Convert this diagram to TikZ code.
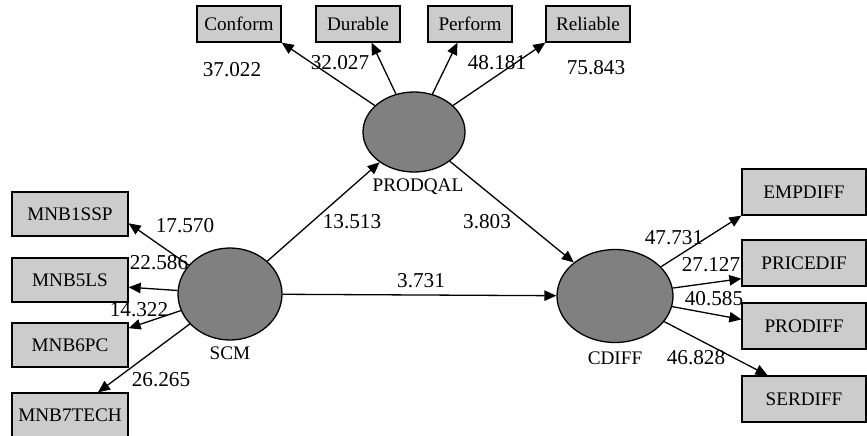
\documentclass[tikz,border=0pt]{standalone}
\usepackage{fontspec}
\setmainfont{Liberation Serif}
\usetikzlibrary{calc,shapes.geometric,shadows,arrows.meta}

\begin{document}
\begin{tikzpicture}[x=0.5pt,y=-0.5pt,line width=0.65pt,
	indicator/.style={draw,fill=gray!40,inner sep=0pt,font=\fontsize{9.6}{11}\selectfont,
		drop shadow={shadow xshift=0.7pt,shadow yshift=-0.7pt,fill=black,opacity=1}},
	topind/.style={indicator,minimum width=42pt,minimum height=18pt},
	leftind/.style={indicator,minimum width=58pt,minimum height=22pt},
	rightind/.style={indicator,minimum width=62pt,minimum height=23pt},
	construct/.style={ellipse,draw,fill=gray,inner sep=0pt},
	tval/.style={font=\fontsize{10.6}{12}\selectfont,inner sep=0pt},
	cname/.style={font=\fontsize{9.6}{11}\selectfont,inner sep=0pt},
	load/.style={-{Triangle[length=6pt,width=5.2pt]}}]

	\useasboundingbox (0,0) rectangle (867,435);

	% constructs
	\node[construct,minimum width=51pt,minimum height=40pt] (prodqal) at (414,132) {};
	\node[construct,minimum width=52pt,minimum height=46pt] (scm) at (230,294) {};
	\node[construct,minimum width=58pt,minimum height=46.5pt] (cdiff) at (615,296) {};
	\node[cname] (prodqal_name) at (418,187) {PRODQAL};
	\node[cname] (scm_name) at (230,353) {SCM};
	\node[cname] (cdiff_name) at (615,358) {CDIFF};

	% indicators
	\node[topind] (conform) at (239,24) {Conform};
	\node[topind] (durable) at (358,24) {Durable};
	\node[topind] (perform) at (470,24) {Perform};
	\node[topind] (reliable) at (588,24) {Reliable};

	\node[leftind] (mnb1ssp) at (70,214) {MNB1SSP};
	\node[leftind] (mnb5ls) at (70,280) {MNB5LS};
	\node[leftind] (mnb6pc) at (70,345) {MNB6PC};
	\node[leftind] (mnb7tech) at (70,415) {MNB7TECH};

	\node[rightind] (empdiff) at (804,192) {EMPDIFF};
	\node[rightind] (pricedif) at (804,263) {PRICEDIF};
	\node[rightind] (prodiff) at (804,326) {PRODIFF};
	\node[rightind] (serdiff) at (804,399) {SERDIFF};

	% inner model
	\draw[load] (scm) -- (prodqal);
	\draw[load] (prodqal) -- (cdiff);
	\draw[load] (scm) -- (cdiff);

	% outer model
	\draw[load] (prodqal) -- (conform.south east);
	\draw[load] (prodqal) -- (durable.-54);
	\draw[load] (prodqal) -- (perform.-124);
	\draw[load] (prodqal) -- (reliable.south west);

	\draw[load] (scm) -- (mnb1ssp.-9);
	\draw[load] (scm) -- (mnb5ls.-7);
	\draw[load] (scm) -- (mnb6pc.16);
	\draw[load] (scm) -- (mnb7tech.39);

	\draw[load] (cdiff) -- (empdiff.south west);
	\draw[load] (cdiff) -- (pricedif.194);
	\draw[load] (cdiff) -- (prodiff.174);
	\draw[load] (cdiff) -- (serdiff.147);

	% t values
	\node[tval] (t_conform) at (232,70) {37.022};
	\node[tval] (t_durable) at (340,63) {32.027};
	\node[tval] (t_perform) at (497,63) {48.181};
	\node[tval] (t_reliable) at (596,68) {75.843};

	\node[tval] (t_scm_prodqal) at (352,222) {13.513};
	\node[tval] (t_prodqal_cdiff) at (487,222) {3.803};
	\node[tval] (t_scm_cdiff) at (421,281) {3.731};

	\node[tval] (t_mnb1ssp) at (185,226) {17.570};
	\node[tval] (t_mnb5ls) at (159,263) {22.586};
	\node[tval] (t_mnb6pc) at (139,310) {14.322};
	\node[tval] (t_mnb7tech) at (161,380) {26.265};

	\node[tval] (t_empdiff) at (674,238) {47.731};
	\node[tval] (t_pricedif) at (711,265) {27.127};
	\node[tval] (t_prodiff) at (714,299) {40.585};
	\node[tval] (t_serdiff) at (696,358) {46.828};
\end{tikzpicture}
\end{document}
